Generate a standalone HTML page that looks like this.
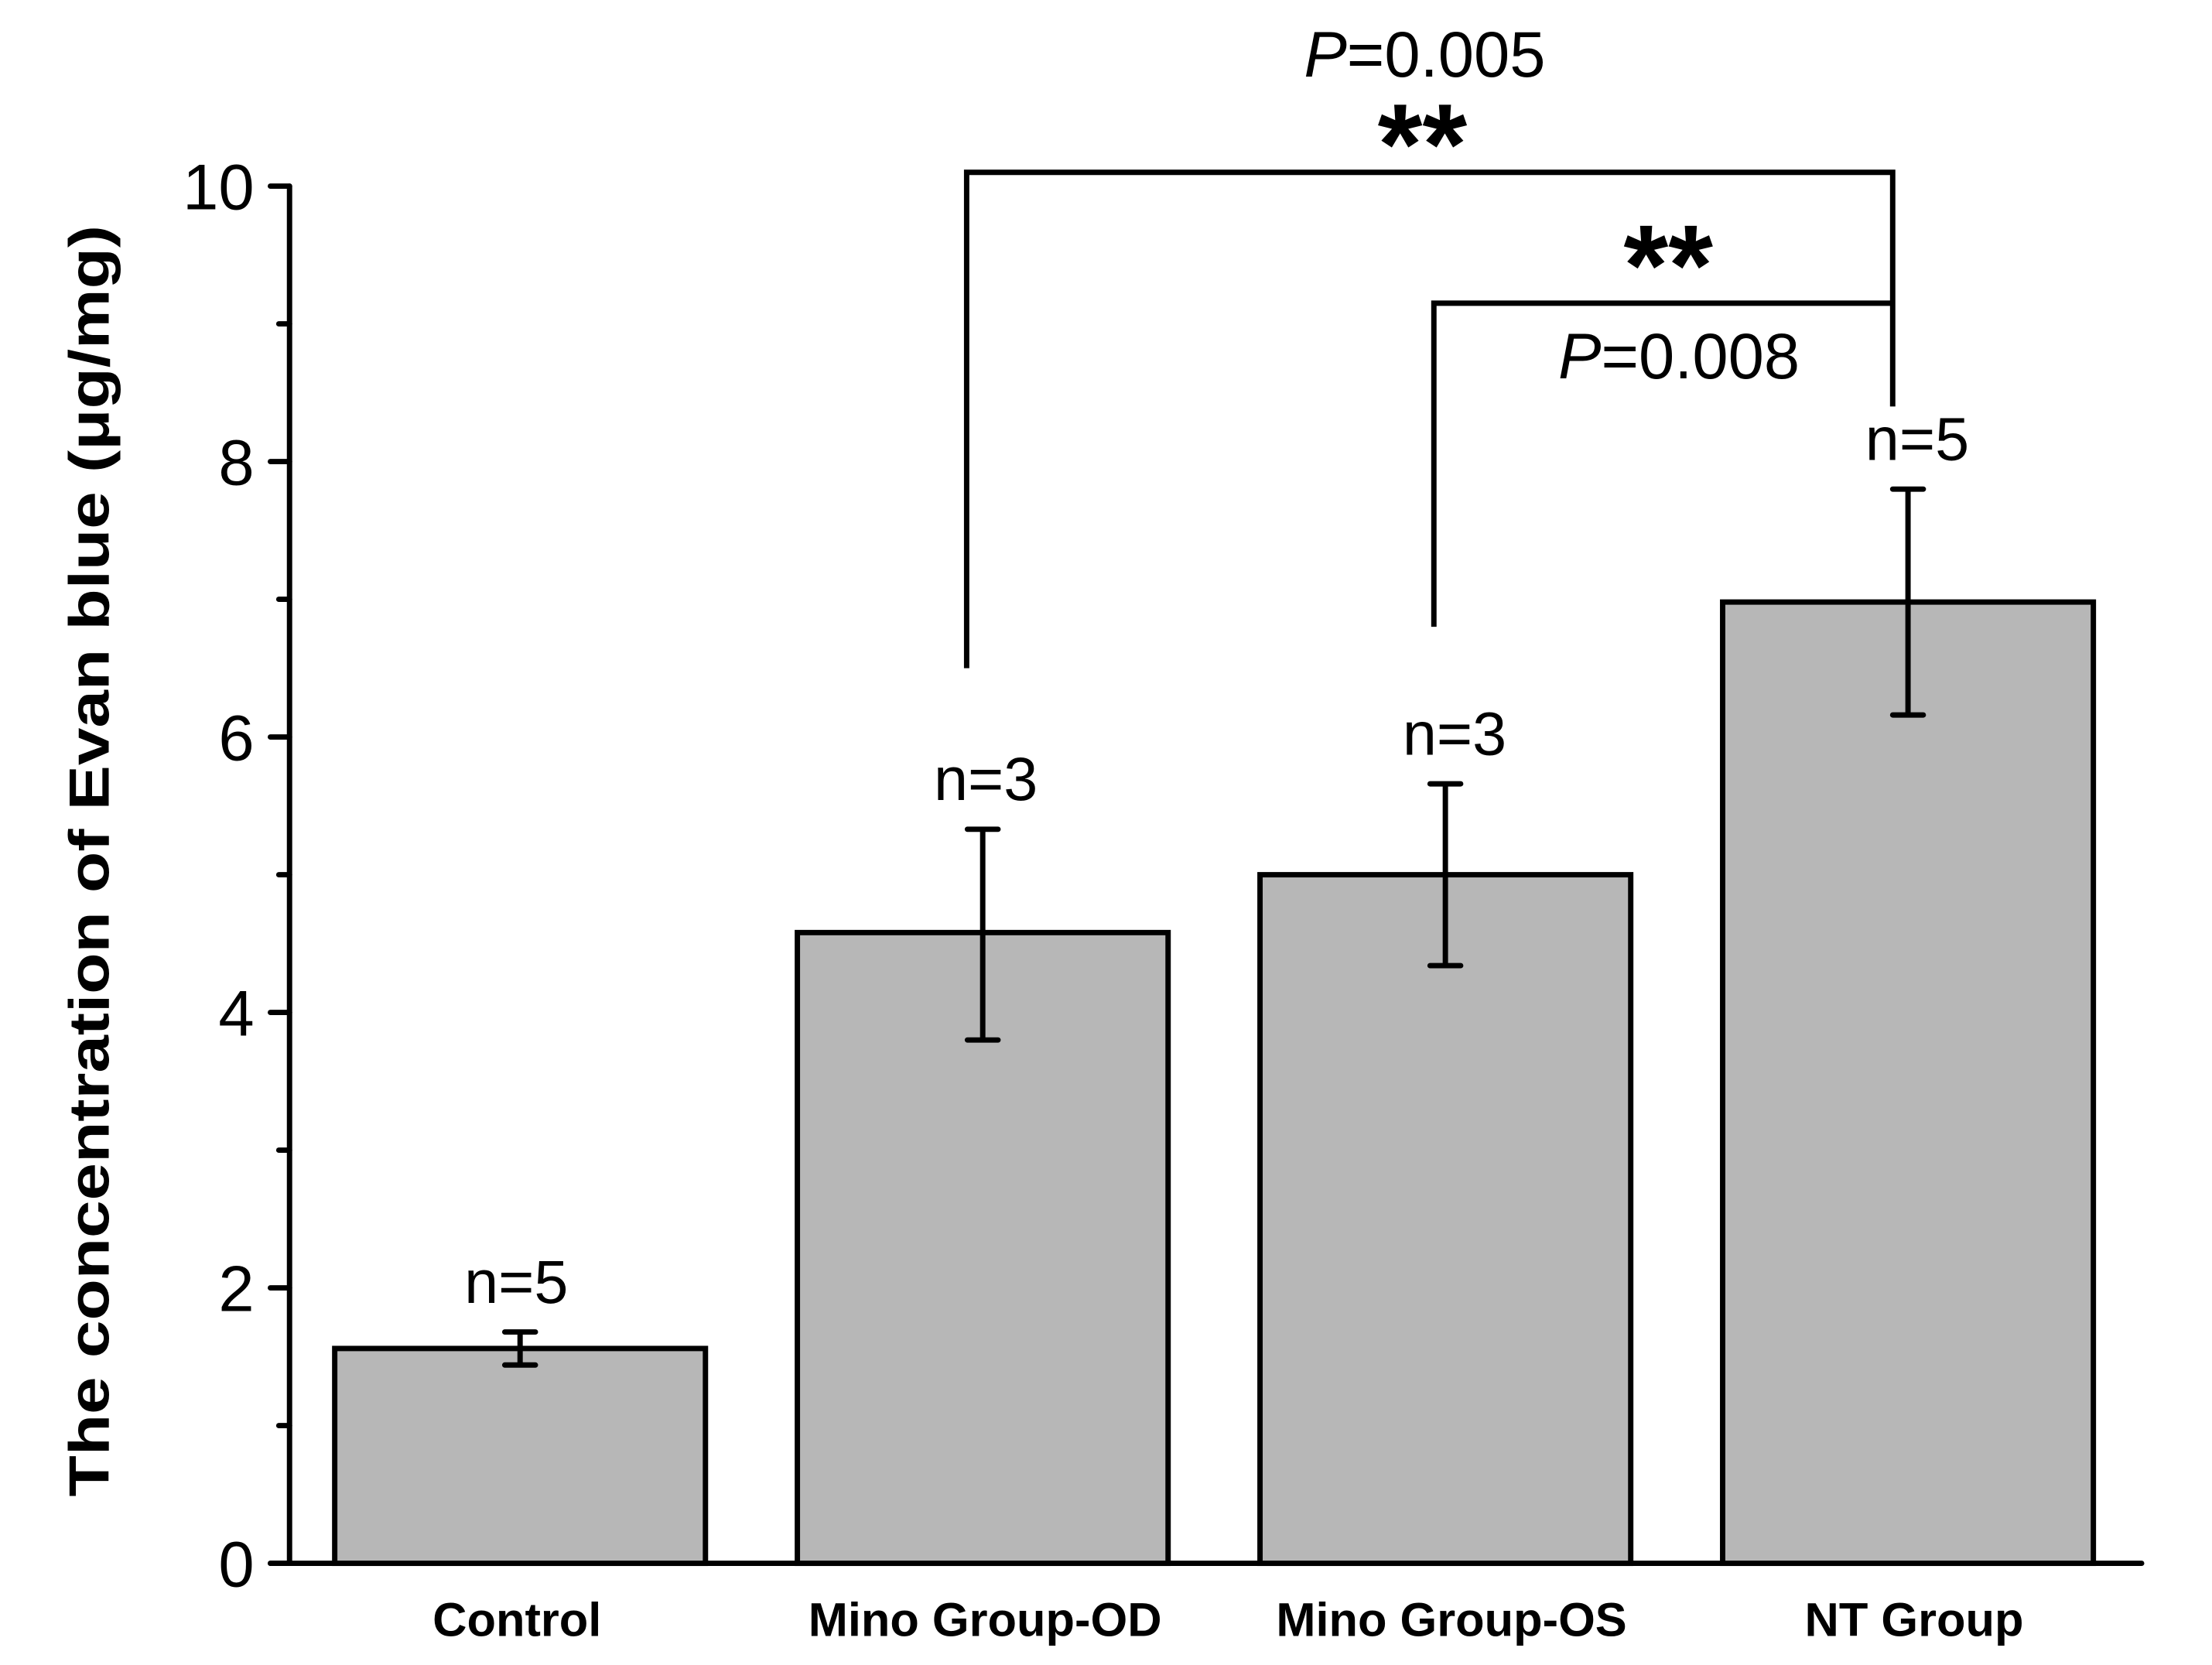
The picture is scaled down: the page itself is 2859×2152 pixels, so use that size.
<!DOCTYPE html>
<html><head><meta charset="utf-8"><style>html,body{margin:0;padding:0;background:#fff}svg{display:block}</style></head>
<body>
<svg id="chart" width="2859" height="2152" viewBox="0 0 2859 2152" xmlns="http://www.w3.org/2000/svg" font-family="'Liberation Sans', sans-serif">
<g transform="scale(0.99)">
<g id="axes"></g><g id="bars"></g><g id="annot"></g>
</g>
</svg>
<script>
const categories = ["Control", "Mino Group-OD", "Mino Group-OS", "NT Group"];
const means = [1.56, 4.58, 5.0, 6.98];
const errLow = [1.44, 3.8, 4.34, 6.16];
const errHigh = [1.68, 5.33, 5.66, 7.8];
const nLabels = ["n=5", "n=3", "n=3", "n=5"];
const yTicks = [0, 2, 4, 6, 8, 10];
const yMinor = [1, 3, 5, 7, 9];

const NS = "http://www.w3.org/2000/svg";
const X0 = 378, X1 = 2796, Y0 = 2041, Y10 = 243;
const y = v => Y0 - (Y0 - Y10) * v / 10;
const bandStart = 437, bandStep = 604, barW = 484;
const xc = i => bandStart + i * bandStep + barW / 2;
function mk(tag, attrs, parent, text) {
  const e = document.createElementNS(NS, tag);
  for (const k in attrs) e.setAttribute(k, attrs[k]);
  if (text !== undefined) e.textContent = text;
  parent.appendChild(e); return e;
}
const axes = document.getElementById('axes'), bars = document.getElementById('bars'), annot = document.getElementById('annot');
const LW = 7;

categories.forEach((c, i) => {
  const b = mk('rect', {x: xc(i) - barW / 2, y: y(means[i]), width: barW, height: Y0 - y(means[i]), fill: '#b7b7b7', stroke: '#000', 'stroke-width': LW}, bars);
  
  
  const eb = mk('path', {d: `M${xc(i)},${y(errLow[i])}V${y(errHigh[i])}M${xc(i)-20},${y(errLow[i])}h40M${xc(i)-20},${y(errHigh[i])}h40`, stroke: '#000', 'stroke-width': LW, 'stroke-linecap': 'round', fill: 'none'}, bars);
  
  
  const t = mk('text', {x: xc(i) + [-5, 4, 12, 12][i], y: y(errHigh[i]) - 38, 'font-size': 80, 'text-anchor': 'middle'}, annot, nLabels[i]);
  
  
  const cl = mk('text', {x: xc(i) + [-4, 3, 8, 8][i], y: 2136, 'font-size': 62, 'font-weight': 'bold', 'text-anchor': 'middle'}, axes, c);
  
  
});

const ax = mk('path', {d: `M${X0},${Y10}V${Y0}M${X0-25},${Y0}H${X1}`, stroke: '#000', 'stroke-width': LW, fill: 'none', 'stroke-linecap': 'round'}, axes);


yTicks.forEach(v => {
  const tk = mk('path', {d: `M${X0-25},${y(v)}H${X0}`, stroke: '#000', 'stroke-width': LW, 'stroke-linecap': 'round'}, axes);
  
  
  const tl = mk('text', {x: 332, y: y(v) + 30, 'font-size': 84, 'text-anchor': 'end'}, axes, String(v));
  
  
});
yMinor.forEach(v => {
  const tk = mk('path', {d: `M${X0-14},${y(v)}H${X0}`, stroke: '#000', 'stroke-width': LW, 'stroke-linecap': 'round'}, axes);
  
  
});
const yt = mk('text', {x: 0, y: 0, transform: 'translate(142,1124) rotate(-90)', 'font-size': 74, 'font-weight': 'bold', 'text-anchor': 'middle', textLength: 1660, lengthAdjust: 'spacingAndGlyphs'}, axes, 'The concentration of Evan blue (μg/mg)');



const br1 = mk('path', {d: `M1262,${y(6.5)}V${y(10.1)}H2471V${y(8.4)}`, stroke: '#000', 'stroke-width': LW, fill: 'none'}, annot);


const br2 = mk('path', {d: `M1872,${y(6.8)}V${y(9.15)}H2471`, stroke: '#000', 'stroke-width': LW, fill: 'none'}, annot);


const p1 = mk('text', {x: 1860, y: 100, 'font-size': 84, 'text-anchor': 'middle'}, annot);
p1.innerHTML = '<tspan font-style="italic">P</tspan>=0.005';


const s1 = mk('text', {x: 1857, y: 240, 'font-size': 150, 'font-weight': 'bold', 'text-anchor': 'middle'}, annot, '**');


const s2 = mk('text', {x: 2178, y: 398, 'font-size': 150, 'font-weight': 'bold', 'text-anchor': 'middle'}, annot, '**');


const p2 = mk('text', {x: 2192, y: 494, 'font-size': 84, 'text-anchor': 'middle'}, annot);
p2.innerHTML = '<tspan font-style="italic">P</tspan>=0.008';


</script>
</body></html>
